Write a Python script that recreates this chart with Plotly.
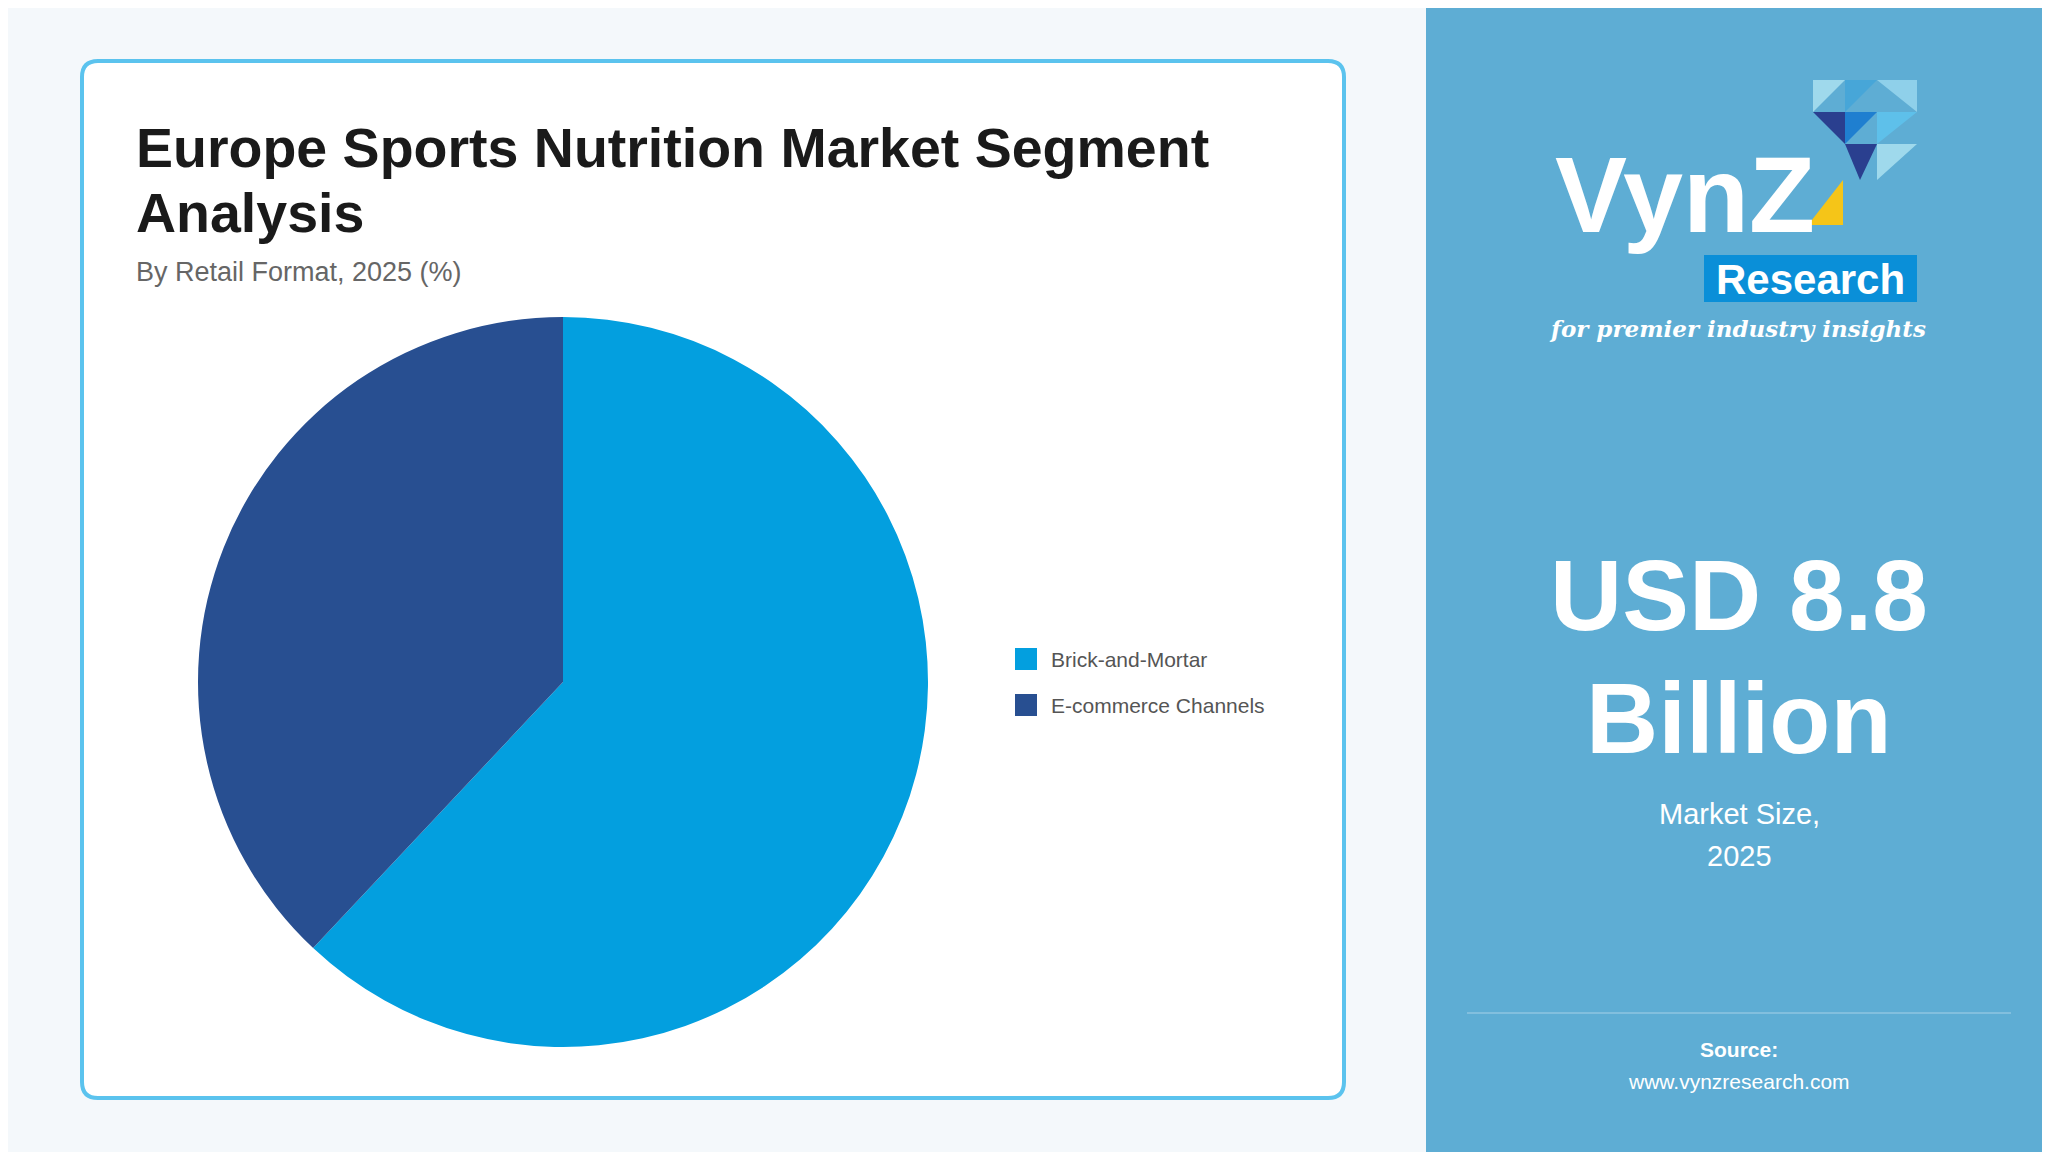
import plotly.graph_objects as go

labels = ["Brick-and-Mortar", "E-commerce Channels"]
values = [62, 38]
colors = ["#039fdf", "#284f91"]

W, H = 2050, 1152
OX, OY = 8, 8
def px(x): return (x - OX) / W
def py(y): return 1 - (y - OY) / H

fig = go.Figure()
fig.add_trace(go.Pie(labels=labels, values=values, sort=False, direction="clockwise",
                     rotation=0, textinfo="none", hoverinfo="label+percent",
                     marker=dict(colors=colors, line=dict(width=0)),
                     domain=dict(x=[px(198), px(928)], y=[py(1047), py(317)]),
                     showlegend=False))

shapes = [
    dict(type="rect", xref="paper", yref="paper", x0=px(1426), x1=1.01, y0=-0.01, y1=1.01,
         fillcolor="#5eadd4", line=dict(width=0), layer="below"),
    dict(type="path", xref="paper", yref="paper", layer="below",
         path=f"M {px(98)},{py(61)} L {px(1328)},{py(61)} Q {px(1344)},{py(61)} {px(1344)},{py(77)} "
              f"L {px(1344)},{py(1082)} Q {px(1344)},{py(1098)} {px(1328)},{py(1098)} "
              f"L {px(98)},{py(1098)} Q {px(82)},{py(1098)} {px(82)},{py(1082)} "
              f"L {px(82)},{py(77)} Q {px(82)},{py(61)} {px(98)},{py(61)} Z",
         fillcolor="white", line=dict(color="#5bc3ee", width=4)),
    dict(type="line", xref="paper", yref="paper", x0=px(1467), x1=px(2011), y0=py(1013), y1=py(1013),
         line=dict(color="#8fc6e2", width=1.5)),
    dict(type="rect", xref="paper", yref="paper", x0=px(1704), x1=px(1917), y0=py(302), y1=py(255),
         fillcolor="#0a8fd8", line=dict(width=0)),
]
tri = [((1813, 80), (1845, 80), (1813, 112), "#9fd9ec"),
       ((1845, 80), (1877, 80), (1845, 112), "#47a6d8"),
       ((1877, 80), (1917, 80), (1917, 112), "#8fd0ea"),
       ((1813, 112), (1845, 112), (1845, 144), "#2a3f8f"),
       ((1845, 112), (1877, 112), (1845, 144), "#1f7fd0"),
       ((1877, 112), (1917, 112), (1877, 144), "#5ec0ea"),
       ((1845, 144), (1877, 144), (1860, 180), "#2a3f8f"),
       ((1877, 144), (1917, 144), (1877, 180), "#9fd9ec"),
       ((1843, 180), (1843, 225), (1808, 225), "#f5c518")]
for a, b, c, col in tri:
    shapes.append(dict(type="path", xref="paper", yref="paper",
                       path=f"M {px(a[0])},{py(a[1])} L {px(b[0])},{py(b[1])} L {px(c[0])},{py(c[1])} Z",
                       fillcolor=col, line=dict(width=0)))

ann = [
    dict(text="<b>Europe Sports Nutrition Market Segment</b>", x=px(134), y=py(148),
         xanchor="left", yanchor="middle", font=dict(size=55.5, color="#1a1a1a")),
    dict(text="<b>Analysis</b>", x=px(134), y=py(213),
         xanchor="left", yanchor="middle", font=dict(size=55.5, color="#1a1a1a")),
    dict(text="By Retail Format, 2025 (%)", x=px(134), y=py(272), xanchor="left", yanchor="middle",
         font=dict(size=27, color="#666666")),
    dict(text="<b>VynZ</b>", x=px(1553), y=py(195), xanchor="left", yanchor="middle",
         font=dict(size=108, color="white", family="Arial")),
    dict(text="<b>Research</b>", x=px(1810), y=py(279), xanchor="center", yanchor="middle",
         font=dict(size=42, color="white", family="Arial")),
    dict(text="<b><i>for premier industry insights</i></b>", x=px(1737), y=py(328), xanchor="center",
         yanchor="middle", font=dict(size=23, color="white", family="DejaVu Serif")),
    dict(text="<b>USD 8.8</b>", x=px(1739), y=py(595), xanchor="center", yanchor="middle",
         font=dict(size=100, color="white")),
    dict(text="<b>Billion</b>", x=px(1739), y=py(718), xanchor="center", yanchor="middle",
         font=dict(size=100, color="white")),
    dict(text="Market Size,", x=px(1739), y=py(814), xanchor="center", yanchor="middle",
         font=dict(size=29, color="white")),
    dict(text="2025", x=px(1739), y=py(856), xanchor="center", yanchor="middle",
         font=dict(size=29, color="white")),
    dict(text="<b>Source:</b>", x=px(1739), y=py(1049), xanchor="center", yanchor="middle",
         font=dict(size=21, color="white")),
    dict(text="www.vynzresearch.com", x=px(1739), y=py(1081), xanchor="center", yanchor="middle",
         font=dict(size=21, color="white")),
]
for i, (lab, col) in enumerate(zip(labels, colors)):
    yc = 659 + i * 46
    shapes.append(dict(type="rect", xref="paper", yref="paper", x0=px(1015), x1=px(1037),
                       y0=py(yc - 11), y1=py(yc + 11), fillcolor=col, line=dict(width=0)))
    ann.append(dict(text=lab, x=px(1049), y=py(yc), xanchor="left", yanchor="middle",
                    font=dict(size=21, color="#555555")))
for a in ann:
    a.update(xref="paper", yref="paper", showarrow=False)

fig.update_layout(width=W, height=H, margin=dict(l=0, r=0, t=0, b=0),
                  paper_bgcolor="#f4f8fb", plot_bgcolor="#f4f8fb",
                  font=dict(family="Arial, Liberation Sans, sans-serif"),
                  shapes=shapes, annotations=ann)
fig.write_html("out.html")
